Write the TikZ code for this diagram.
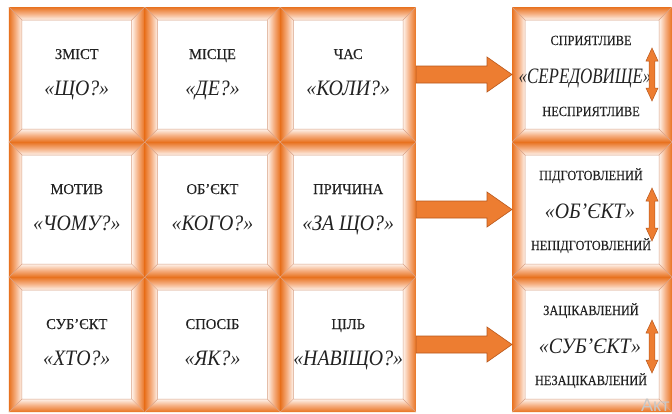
\documentclass[tikz,border=0pt]{standalone}
\usepackage{fontspec}
\setmainfont{Liberation Serif}
\newfontfamily\lblfont[FakeStretch=0.88,FakeBold=0.25]{Liberation Serif}
\newfontfamily\lbllfont[FakeStretch=0.97,FakeBold=0.25]{Liberation Serif}
\newfontfamily\qfont[FakeStretch=0.9]{Liberation Serif}
\newfontfamily\qnarrowfont[FakeStretch=0.77]{Liberation Serif}
\newfontfamily\wmfont{Liberation Sans}
\usetikzlibrary{calc}
\definecolor{forange}{HTML}{ED7D31}
\definecolor{fdeep}{HTML}{E8721F}
\definecolor{fmid}{HTML}{F5AE80}
\definecolor{flight}{HTML}{FEF3EC}
\definecolor{fline}{HTML}{D9A083}
\definecolor{aedge}{HTML}{B9581C}
\definecolor{txt}{HTML}{222222}
\def\bw{13pt}
\newcommand\bevelstrips{%
  \coordinate (bvA) at (path picture bounding box.south west);
  \coordinate (bvB) at (path picture bounding box.north east);
  % left
  \shade[left color=fdeep, right color=flight, middle color=fmid]
    let \p1=(bvA), \p2=(bvB) in
    (\x1,\y1) -- (\x1,\y2) -- (\x1+\bw,\y2-\bw) -- (\x1+\bw,\y1+\bw) -- cycle;
  % right
  \shade[left color=flight, right color=fdeep, middle color=fmid]
    let \p1=(bvA), \p2=(bvB) in
    (\x2,\y1) -- (\x2,\y2) -- (\x2-\bw,\y2-\bw) -- (\x2-\bw,\y1+\bw) -- cycle;
  % top
  \shade[top color=fdeep, bottom color=flight, middle color=fmid]
    let \p1=(bvA), \p2=(bvB) in
    (\x1,\y2) -- (\x2,\y2) -- (\x2-\bw,\y2-\bw) -- (\x1+\bw,\y2-\bw) -- cycle;
  % bottom
  \shade[top color=flight, bottom color=fdeep, middle color=fmid]
    let \p1=(bvA), \p2=(bvB) in
    (\x1,\y1) -- (\x2,\y1) -- (\x2-\bw,\y1+\bw) -- (\x1+\bw,\y1+\bw) -- cycle;
  % bevel lines
  \draw[fline, line width=0.5pt]
    let \p1=(bvA), \p2=(bvB) in
    (\x1+\bw,\y1+\bw) rectangle (\x2-\bw,\y2-\bw)
    (\x1,\y1) -- (\x1+\bw,\y1+\bw)
    (\x2,\y1) -- (\x2-\bw,\y1+\bw)
    (\x1,\y2) -- (\x1+\bw,\y2-\bw)
    (\x2,\y2) -- (\x2-\bw,\y2-\bw);
}
\tikzset{
  cellbox/.style={minimum width=#1, minimum height=135pt, inner sep=0pt,
    outer sep=0pt, fill=white, path picture={\bevelstrips}},
  lbl/.style={anchor=base, inner sep=0pt, text=txt,
    font=\lblfont\fontsize{14}{14}\selectfont},
  lbll/.style={anchor=base, inner sep=0pt, text=txt,
    font=\lbllfont\fontsize{15}{15}\selectfont},
  qst/.style={anchor=base, inner sep=0pt, text=txt,
    font=\qfont\itshape\fontsize{22}{22}\selectfont},
  qstn/.style={anchor=base, inner sep=0pt, text=txt,
    font=\qnarrowfont\itshape\fontsize{22}{22}\selectfont},
  dblarrow/.style={fill=forange, draw=aedge, line width=0.5pt},
  bigarrow/.style={fill=forange, draw=aedge, line width=0.6pt}
}
\begin{document}
\begin{tikzpicture}[x=1pt,y=-1pt]
\useasboundingbox (0,0) rectangle (672,413);
\clip (0,0) rectangle (672,413);
\fill[white] (0,0) rectangle (672,413);

% left grid
\node[cellbox=135.7pt] (c11) at (76.8,74.5) {};
\node[cellbox=135.7pt] (c12) at (212.5,74.5) {};
\node[cellbox=135.7pt] (c13) at (348.2,74.5) {};
\node[cellbox=135.7pt] (c21) at (76.8,209.5) {};
\node[cellbox=135.7pt] (c22) at (212.5,209.5) {};
\node[cellbox=135.7pt] (c23) at (348.2,209.5) {};
\node[cellbox=135.7pt] (c31) at (76.8,344.5) {};
\node[cellbox=135.7pt] (c32) at (212.5,344.5) {};
\node[cellbox=135.7pt] (c33) at (348.2,344.5) {};

% right column
\node[cellbox=160pt] (r1) at (592,74.5) {};
\node[cellbox=160pt] (r2) at (592,209.5) {};
\node[cellbox=160pt] (r3) at (592,344.5) {};

% texts in the grid
\node[lbll] (l11) at (76.8,59) {ЗМІСТ};
\node[qst] (q11) at (76.8,95.5) {«ЩО?»};
\node[lbll] (l12) at (212.5,59) {МІСЦЕ};
\node[qst] (q12) at (212.5,95.5) {«ДЕ?»};
\node[lbll] (l13) at (348.2,59) {ЧАС};
\node[qst] (q13) at (348.2,95.5) {«КОЛИ?»};
\node[lbll] (l21) at (76.8,194) {МОТИВ};
\node[qst] (q21) at (76.8,230.5) {«ЧОМУ?»};
\node[lbll] (l22) at (212.5,194) {ОБ’ЄКТ};
\node[qst] (q22) at (212.5,230.5) {«КОГО?»};
\node[lbll] (l23) at (348.2,194) {ПРИЧИНА};
\node[qst] (q23) at (348.2,230.5) {«ЗА ЩО?»};
\node[lbll] (l31) at (76.8,329) {СУБ’ЄКТ};
\node[qst] (q31) at (76.8,365.5) {«ХТО?»};
\node[lbll] (l32) at (212.5,329) {СПОСІБ};
\node[qst] (q32) at (212.5,365.5) {«ЯК?»};
\node[lbll] (l33) at (348.2,329) {ЦІЛЬ};
\node[qst] (q33) at (348.2,365.5) {«НАВІЩО?»};

% texts in the right column
\node[lbl] (a1) at (591,45) {СПРИЯТЛИВЕ};
\node[qstn] (b1) at (585,83.5) {«СЕРЕДОВИЩЕ»};
\node[lbl] (z1) at (591,116) {НЕСПРИЯТЛИВЕ};
\node[lbl] (a2) at (591,180) {ПІДГОТОВЛЕНИЙ};
\node[qst] (b2) at (590,218.5) {«ОБ’ЄКТ»};
\node[lbl] (z2) at (591,250) {НЕПІДГОТОВЛЕНИЙ};
\node[lbl] (a3) at (591,315) {ЗАЦІКАВЛЕНИЙ};
\node[qst] (b3) at (590,353.5) {«СУБ’ЄКТ»};
\node[lbl] (z3) at (591,385) {НЕЗАЦІКАВЛЕНИЙ};

% vertical double arrows
\coordinate (d1) at (652,74.5);
\coordinate (d2) at (652,214.5);
\coordinate (d3) at (652,346.5);
\foreach \d in {d1,d2,d3}{
  \draw[dblarrow] let \p1=(\d) in
    (\x1,\y1+26.5pt) -- (\x1+6pt,\y1+13.5pt) -- (\x1+2.8pt,\y1+13.5pt) --
    (\x1+2.8pt,\y1-13.5pt) -- (\x1+6pt,\y1-13.5pt) -- (\x1,\y1-26.5pt) --
    (\x1-6pt,\y1-13.5pt) -- (\x1-2.8pt,\y1-13.5pt) -- (\x1-2.8pt,\y1+13.5pt) --
    (\x1-6pt,\y1+13.5pt) -- cycle;
}

% big arrows
\foreach \s/\t in {c13/r1, c23/r2, c33/r3}{
  \draw[bigarrow] let \p1=(\s.east), \p2=(\t.west) in
    (\x1,\y1+8.5pt) -- (\x2-25pt,\y1+8.5pt) -- (\x2-25pt,\y1+17.5pt) --
    (\x2,\y1) -- (\x2-25pt,\y1-17.5pt) -- (\x2-25pt,\y1-8.5pt) --
    (\x1,\y1-8.5pt) -- cycle;
}

% watermark fragment
\node[anchor=base west, inner sep=0pt, text=black!22,
  font=\wmfont\fontsize{18}{18}\selectfont] (wm) at (641,411) {Акт};
\end{tikzpicture}
\end{document}
